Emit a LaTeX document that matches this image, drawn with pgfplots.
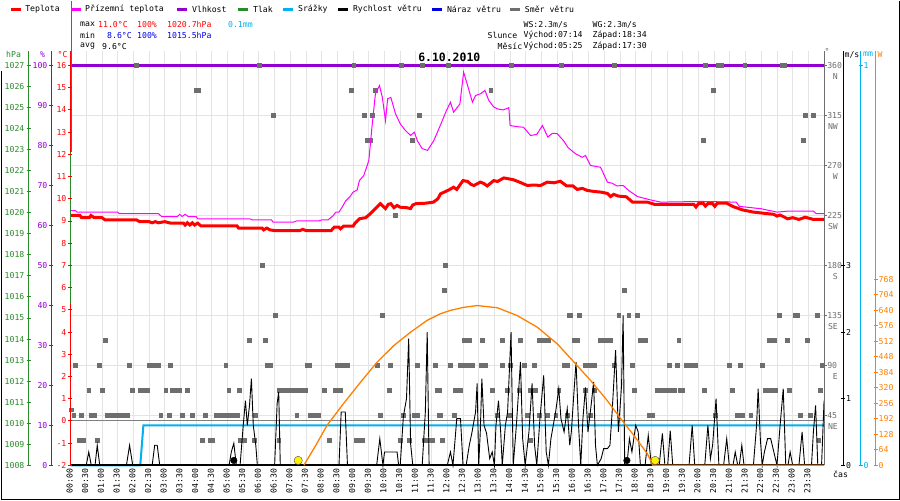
\documentclass[border=0pt]{standalone}
\usepackage{fontspec}
\setmainfont{DejaVu Sans Mono}
\setmonofont{DejaVu Sans Mono}
\usepackage{pgfplots}
\pgfplotsset{compat=1.18}
\definecolor{cT}{RGB}{255,0,0}
\definecolor{cG}{RGB}{255,0,255}
\definecolor{cH}{RGB}{148,0,211}
\definecolor{cP}{RGB}{40,140,40}
\definecolor{cR}{RGB}{0,176,240}
\definecolor{cD}{RGB}{110,110,110}
\definecolor{cS}{RGB}{255,128,0}
\definecolor{cGrid}{RGB}{228,228,228}
\definecolor{cZero}{RGB}{128,128,128}
\definecolor{cBlue}{RGB}{0,0,230}
\newcommand\f{\fontsize{8.2}{9}\selectfont}
\pgfplotsset{ov/.style={at={(70bp,35bp)},anchor=south west,scale only axis,width=754bp,height=400bp,xmin=0,xmax=24,hide axis,clip=false}}
\begin{document}
\begin{tikzpicture}[font=\f]
\begin{scope}[x=1bp,y=1bp,every node/.style={inner sep=0.5pt}]
\useasboundingbox (0,0) rectangle (900,500);
\fill[white] (0,0) rectangle (900,500);
\foreach \i in {0,...,48} \draw[cGrid,line width=0.9bp] ({70+\i*15.708333},35) -- ({70+\i*15.708333},450);
\foreach \k in {1,...,7} \draw[cGrid,line width=0.9bp] (70,{35+\k*50}) -- (824,{35+\k*50});
\draw[cZero,line width=0.9bp] (70,79.5) -- (824,79.5);
\end{scope}
% humidity
\begin{axis}[ov,ymin=0,ymax=100]
\addplot[cH,line width=3bp] coordinates {(0,100) (24,100)};
\end{axis}
% wind direction
\begin{axis}[ov,ymin=0,ymax=360]
\addplot[only marks,mark=square*,mark size=1.9pt,cD] coordinates {
(2.09,360)(6.02,360)(9.02,360)(10.53,360)(11.2,360)(12.03,360)(14.04,360)(15.63,360)(17.32,360)(20.22,360)(20.64,360)(20.72,360)(21.47,360)(22.66,360)(22.73,360)
(4.0,337.5)(4.08,337.5)(8.94,337.5)(9.71,337.5)(13.38,337.5)(20.47,337.5)
(6.45,315)(9.36,315)(9.61,315)(11.1,315)(23.4,315)(23.65,315)
(9.45,292.5)(9.55,292.5)(10.88,292.5)(20.15,292.5)(23.34,292.5)
(10.35,225)(6.1,180)(11.93,180)(11.9,157.5)(17.64,157.5)
(6.53,135)(9.93,135)(15.87,135)(15.93,135)(16.19,135)(17.46,135)(17.78,135)(18.05,135)(22.56,135)(23.09,135)(23.14,135)(23.78,135)
(1.11,112.5)(5.68,112.5)(6.21,112.5)(12.53,112.5)(12.61,112.5)(12.69,112.5)(13.11,112.5)(13.75,112.5)(14.33,112.5)(14.92,112.5)(15.0,112.5)(15.08,112.5)(15.16,112.5)(15.23,112.5)(16.03,112.5)(16.14,112.5)(16.88,112.5)(16.96,112.5)(17.04,112.5)(17.12,112.5)(17.2,112.5)(18.15,112.5)(18.23,112.5)(18.31,112.5)(19.37,112.5)(22.24,112.5)(22.32,112.5)(22.4,112.5)(22.82,112.5)(23.46,112.5)
(0.16,90)(0.9,90)(1.86,90)(2.5,90)(2.6,90)(2.7,90)(2.8,90)(3.18,90)(4.94,90)(6.26,90)(6.37,90)(7.54,90)(7.6,90)(8.49,90)(8.65,90)(8.73,90)(8.8,90)(9.77,90)(10.19,90)(11.04,90)(11.62,90)(12.1,90)(12.42,90)(12.5,90)(12.58,90)(12.66,90)(12.74,90)(12.79,90)(13.06,90)(13.14,90)(13.22,90)(13.75,90)(14.01,90)(14.44,90)(14.76,90)(15.71,90)(15.82,90)(16.4,90)(16.48,90)(16.56,90)(16.67,90)(17.3,90)(17.89,90)(19.06,90)(19.32,90)(19.59,90)(19.67,90)(19.75,90)(19.83,90)(19.9,90)(20.97,90)(21.34,90)(22.03,90)(23.95,90)
(0.58,67.5)(1.0,67.5)(1.96,67.5)(2.23,67.5)(2.33,67.5)(2.44,67.5)(3.03,67.5)(3.24,67.5)(3.34,67.5)(3.45,67.5)(3.72,67.5)(5.04,67.5)(5.36,67.5)(6.63,67.5)(6.71,67.5)(6.8,67.5)(6.89,67.5)(6.97,67.5)(7.06,67.5)(7.14,67.5)(7.22,67.5)(7.38,67.5)(7.48,67.5)(8.07,67.5)(8.44,67.5)(8.6,67.5)(10.14,67.5)(11.73,67.5)(11.68,67.5)(12.26,67.5)(12.34,67.5)(12.42,67.5)(13.43,67.5)(13.91,67.5)(14.28,67.5)(14.65,67.5)(14.73,67.5)(14.81,67.5)(15.55,67.5)(16.4,67.5)(16.67,67.5)(17.96,67.5)(18.68,67.5)(18.76,67.5)(18.84,67.5)(18.92,67.5)(19.0,67.5)(19.08,67.5)(19.16,67.5)(19.24,67.5)(19.4,67.5)(19.48,67.5)(20.17,67.5)(21.07,67.5)(22.13,67.5)(22.21,67.5)(22.29,67.5)(22.37,67.5)(22.45,67.5)(22.88,67.5)(23.88,67.5)
(0.02,50)(0.1,45)(0.34,45)(0.66,45)(0.72,45)(0.76,45)(1.17,45)(1.25,45)(1.33,45)(1.41,45)(1.49,45)(1.57,45)(1.65,45)(1.73,45)(1.8,45)(2.87,45)(3.13,45)(3.56,45)(3.87,45)(4.3,45)(4.62,45)(4.7,45)(4.78,45)(4.86,45)(4.94,45)(4.99,45)(5.15,45)(5.23,45)(5.31,45)(5.89,45)(7.2,45)(7.64,45)(7.72,45)(7.8,45)(7.9,45)(9.87,45)(10.6,45)(10.93,45)(11.04,45)(11.73,45)(11.78,45)(12.21,45)(13.59,45)(13.96,45)(14.54,45)(14.92,45)(15.18,45)(15.45,45)(15.82,45)(16.56,45)(18.42,45)(18.52,45)(20.54,45)(21.23,45)(21.39,45)(21.66,45)(23.25,45)(23.57,45)
(0.27,22.5)(0.42,22.5)(0.85,22.5)(4.19,22.5)(4.46,22.5)(4.51,22.5)(5.41,22.5)(5.52,22.5)(5.84,22.5)(6.63,22.5)(8.23,22.5)(9.08,22.5)(9.16,22.5)(9.22,22.5)(9.29,22.5)(10.5,22.5)(10.78,22.5)(11.25,22.5)(11.36,22.5)(11.52,22.5)(11.84,22.5)(14.65,22.5)(23.83,22.5)
};
\end{axis}
% temperatures
\begin{axis}[ov,ymin=-2,ymax=16]
\addplot[cG,line width=1bp] coordinates {
(0,9.47)(0.15,9.47)(0.2,9.4)(1.5,9.4)(1.55,9.33)(2.8,9.33)(2.9,9.2)(3.4,9.2)(3.48,9.3)(3.55,9.2)(3.65,9.3)(3.75,9.2)(4.0,9.2)(4.05,9.1)(5.7,9.1)(5.8,9.05)(6.4,9.05)(6.45,8.95)(7.1,8.95)(7.2,9.0)(7.9,9.0)(8.0,9.05)(8.2,9.05)(8.35,9.22)(8.45,9.4)(8.55,9.4)(8.65,9.62)(8.76,9.9)(8.9,10.1)(9.0,10.3)(9.13,10.4)(9.2,10.82)(9.34,11.05)(9.5,11.72)(9.6,13.22)(9.71,14.73)(9.84,15.1)(9.93,14.57)(10.03,13.52)(10.1,14.5)(10.2,14.57)(10.35,13.83)(10.5,13.38)(10.65,13.1)(10.83,12.85)(10.95,13.0)(11.05,12.6)(11.2,12.26)(11.37,12.18)(11.57,12.62)(11.8,13.38)(11.95,13.9)(12.1,14.35)(12.2,13.9)(12.4,14.27)(12.52,15.7)(12.63,15.18)(12.8,14.35)(12.9,14.65)(13.06,14.73)(13.2,14.88)(13.32,14.43)(13.48,14.13)(13.6,14.05)(13.77,14.0)(13.96,14.1)(14.0,13.3)(14.2,13.25)(14.43,13.22)(14.65,12.85)(14.85,12.9)(15.03,13.3)(15.2,12.78)(15.35,12.95)(15.5,12.93)(15.7,12.62)(15.85,12.3)(16.08,12.03)(16.3,11.87)(16.4,11.95)(16.56,11.5)(16.88,11.42)(17.1,10.75)(17.25,10.7)(17.4,10.58)(17.6,10.6)(17.8,10.35)(18.06,10.1)(18.47,9.95)(18.8,9.85)(20.1,9.88)(21.2,9.85)(21.3,9.66)(22.0,9.55)(22.5,9.4)(22.9,9.45)(23.66,9.45)(23.75,9.33)(24,9.33)};
\addplot[cT,line width=3bp] coordinates {
(0,9.25)(0.3,9.25)(0.35,9.15)(0.6,9.15)(0.65,9.25)(0.75,9.15)(1.0,9.15)(1.1,9.05)(2.1,9.05)(2.2,8.97)(2.5,8.97)(2.6,8.92)(2.7,8.97)(2.8,8.92)(3.0,8.97)(3.2,8.9)(3.6,8.9)(3.65,8.82)(3.72,8.92)(3.8,8.82)(3.88,8.92)(3.95,8.82)(4.05,8.9)(4.15,8.78)(5.3,8.78)(5.35,8.68)(6.1,8.68)(6.15,8.6)(6.25,8.68)(6.35,8.6)(6.5,8.57)(7.3,8.57)(7.4,8.62)(7.5,8.57)(8.3,8.57)(8.4,8.72)(8.55,8.72)(8.6,8.65)(8.7,8.77)(9.0,8.77)(9.05,8.88)(9.2,9.1)(9.4,9.15)(9.55,9.33)(9.7,9.55)(9.87,9.78)(10.03,9.56)(10.12,9.75)(10.2,9.78)(10.3,9.6)(10.4,9.7)(10.5,9.62)(10.7,9.6)(10.83,9.56)(10.9,9.72)(11.0,9.78)(11.3,9.8)(11.56,9.85)(11.7,10.0)(11.78,10.22)(11.9,10.3)(12.05,10.4)(12.2,10.52)(12.3,10.42)(12.5,10.82)(12.65,10.78)(12.75,10.65)(12.85,10.6)(13.05,10.75)(13.15,10.7)(13.27,10.58)(13.48,10.82)(13.6,10.78)(13.8,10.94)(13.95,10.9)(14.1,10.86)(14.3,10.75)(14.55,10.6)(14.75,10.62)(14.97,10.6)(15.18,10.75)(15.4,10.72)(15.6,10.79)(15.8,10.58)(16.0,10.58)(16.14,10.42)(16.3,10.47)(16.45,10.38)(16.67,10.33)(16.9,10.3)(17.1,10.24)(17.2,10.1)(17.3,10.2)(17.45,10.12)(17.7,10.09)(17.9,9.85)(18.37,9.85)(18.6,9.75)(19.85,9.75)(19.92,9.63)(20.0,9.78)(20.15,9.8)(20.22,9.67)(20.3,9.78)(20.45,9.78)(20.52,9.66)(20.6,9.8)(20.9,9.8)(21.1,9.65)(21.4,9.5)(21.75,9.4)(22.2,9.33)(22.4,9.3)(22.5,9.22)(22.6,9.27)(22.84,9.1)(23.0,9.15)(23.2,9.07)(23.4,9.17)(23.66,9.07)(24,9.07)};
\end{axis}
% precipitation
\begin{axis}[ov,ymin=0,ymax=1]
\addplot[cR,line width=2bp] coordinates {(0,0)(2.22,0)(2.27,0.05)(2.32,0.1)(24,0.1)};
\end{axis}
% wind speed
\begin{axis}[ov,ymin=0,ymax=6]
\addplot[black,line width=0.9bp] coordinates {
(0,0)(0.5,0)(0.58,0.2)(0.66,0)(0.78,0)(0.85,0.3)(0.93,0)(1.78,0)(1.88,0.3)(1.98,0)(2.6,0)(2.68,0.3)(2.76,0.3)(2.84,0)(5.05,0)(5.12,0.2)(5.2,0.33)(5.28,0)(5.4,0)(5.5,0.6)(5.57,0.97)(5.63,0.6)(5.7,0.9)(5.76,1.3)(5.82,0.6)(5.9,0.3)(5.95,0)(6.5,0)(6.58,0.93)(6.63,1.1)(6.68,0)(8.55,0)(8.62,0.8)(8.75,0.8)(8.82,0)(9.75,0)(9.85,0.4)(9.95,0)(10.0,0.2)(10.4,0.2)(10.45,0)(10.5,0)(10.6,0.73)(10.7,1.0)(10.77,1.9)(10.83,0.33)(10.9,0)(11.2,0)(11.3,0.8)(11.36,2.0)(11.42,0)(12.0,0)(12.1,0.2)(12.18,0)(12.25,0.4)(12.3,0.7)(12.42,0.7)(12.5,0)(12.6,0)(12.7,0.3)(12.78,0.48)(12.9,0.8)(12.95,1.23)(13.0,0)(13.05,0.5)(13.1,1.3)(13.17,0.6)(13.25,0.48)(13.35,0.1)(13.43,0.2)(13.5,0)(13.55,0.6)(13.63,0.97)(13.7,0.5)(13.75,0)(13.85,0.6)(13.92,0.8)(14.03,2.0)(14.1,0)(14.2,0.6)(14.33,1.55)(14.4,0.4)(14.48,0)(14.6,0.5)(14.7,1.23)(14.78,0.3)(14.85,0)(14.95,0.7)(15.07,1.35)(15.15,0.2)(15.22,0)(15.3,0.4)(15.45,0.8)(15.55,1.15)(15.62,0.7)(15.72,0.5)(15.82,0.85)(15.9,0.3)(15.95,0.5)(16.02,1.0)(16.1,1.55)(16.18,0.6)(16.25,0)(16.32,0.7)(16.4,1.17)(16.48,0.5)(16.58,0.9)(16.66,1.25)(16.72,0.3)(16.78,0)(16.9,0.1)(16.98,0.25)(17.1,0.25)(17.18,0.3)(17.25,0.8)(17.36,1.73)(17.45,0.5)(17.55,1.2)(17.6,2.25)(17.65,0)(17.72,0)(17.8,0.4)(17.88,0.2)(18.0,0.6)(18.08,0.5)(18.15,0)(18.3,0)(18.4,0.45)(18.5,0)(18.75,0)(18.85,0.48)(18.93,0)(19.02,0)(19.1,0.52)(19.18,0)(19.7,0)(19.8,0.6)(19.88,0)(20.2,0)(20.3,0.6)(20.38,0.1)(20.45,0.3)(20.56,1.0)(20.65,0)(20.8,0)(20.9,0.4)(20.98,0)(21.1,0)(21.17,0.2)(21.25,0)(21.3,0)(21.38,0.3)(21.45,0)(21.75,0)(21.85,0.6)(21.9,1.15)(21.97,0.4)(22.03,0)(22.1,0.2)(22.2,0.4)(22.3,0.4)(22.4,0.2)(22.5,0)(22.6,0.6)(22.7,1.15)(22.78,0)(22.85,0)(22.92,0.2)(23.0,0)(23.2,0)(23.3,0.5)(23.38,0)(23.6,0)(23.66,0.5)(23.73,0.9)(23.8,0)(23.92,0)(24.0,0.97)};
\addplot[black,line width=1.8bp] coordinates {(0,0)(24,0)};
\end{axis}
% solar radiation
\begin{axis}[ov,ymin=0,ymax=1651.6]
\addplot[cS,line width=1.3bp] coordinates {(7.43,0)(7.8,80)(8.17,165)(8.7,256)(9.24,344)(9.77,427)(10.3,495)(10.83,550)(11.36,599)(11.78,626)(12.1,640)(12.5,652)(12.95,660)(13.59,651)(14.22,619)(14.86,571)(15.5,502)(16.03,427)(16.56,351)(17.09,268)(17.52,193)(17.94,124)(18.37,48)(18.55,0)(24,0)};
\addplot[only marks,mark=*,mark size=3.3pt,black] coordinates {(5.2,20)(17.72,20)};
\addplot[only marks,mark=*,mark size=4.2pt,fill=yellow,draw=black!70] coordinates {(7.25,20)(18.62,20)};
\end{axis}
\begin{scope}[x=1bp,y=1bp,every node/.style={inner sep=0.5pt}]
% left axes
\draw[cP,line width=1bp] (28,35) -- (28,450);
\foreach \i in {0,...,19}{\pgfmathtruncatemacro\p{1008+\i}
 \draw[cP,line width=1bp] (26,{35+\i*21.0526}) -- (30,{35+\i*21.0526});
 \node[cP,anchor=east] at (24.5,{35+\i*21.0526}) {\p};}
\draw[cH,line width=1bp] (50.5,35) -- (50.5,450);
\foreach \i in {0,...,10}{\pgfmathtruncatemacro\p{10*\i}
 \draw[cH,line width=1bp] (48.5,{35+\i*40}) -- (52.5,{35+\i*40});
 \node[cH,anchor=east] at (47.5,{35+\i*40}) {\p};}
\draw[cT,line width=1.2bp] (70,35) -- (70,450);
\draw[cP,line width=1.2bp] (70,197) -- (70,348);
\draw[cP,line width=1bp] (71.3,348) -- (71.3,500);
\foreach \i in {0,...,18}{\pgfmathtruncatemacro\p{\i-2}
 \draw[cT,line width=1bp] (67.5,{35+\i*22.2222}) -- (71,{35+\i*22.2222});
 \node[cT,anchor=east] at (66.5,{35+\i*22.2222}) {\p};}
\node[cP] at (13,446) {hPa};
\node[cH] at (42,446) {\%};
\node[cT] at (62,446) {°C};
% right axes
\draw[cD,line width=1bp] (824,35) -- (824,450);
\foreach \k/\v/\d in {1/45/NE,2/90/E,3/135/SE,4/180/S,5/225/SW,6/270/W,7/315/NW,8/360/N}{
 \draw[cD,line width=1bp] (824,{35+\k*50}) -- (827,{35+\k*50});
 \node[cD,anchor=west] at (826.5,{35+\k*50}) {\v};
 \node[cD,anchor=east] at (838.5,{35+\k*50-11}) {\d};}
\draw[black,line width=1bp] (843.3,35) -- (843.3,450);
\foreach \i in {0,...,3}{
 \draw[black,line width=1bp] (841.3,{35+\i*66.6667}) -- (845.3,{35+\i*66.6667});
 \node[anchor=west] at (845.5,{35+\i*66.6667}) {\i};}
\draw[cR,line width=1bp] (860.7,35) -- (860.7,450);
\foreach \i in {0,1}{
 \draw[cR,line width=1bp] (858.7,{35+\i*400}) -- (862.7,{35+\i*400});
 \node[cR,anchor=west] at (863,{35+\i*400}) {\i};}
\draw[cS,line width=1bp] (875.7,35) -- (875.7,450);
\foreach \i in {0,...,12}{\pgfmathtruncatemacro\p{64*\i}
 \draw[cS,line width=1bp] (873.7,{35+\i*15.5}) -- (877.7,{35+\i*15.5});
 \node[cS,anchor=west] at (878,{35+\i*15.5}) {\p};}
\node[cD] at (827,449) {°};
\node at (852,446) {m/s};
\node[cR] at (868,446) {mm};
\node[cS] at (880,446) {W};
% time labels
\foreach \i in {0,...,47}{\pgfmathtruncatemacro\h{floor(\i/2)}\pgfmathtruncatemacro\m{mod(\i,2)}
 \node[rotate=90,anchor=east] at ({69+\i*15.708333},32) {\ifnum\h<10 0\fi\h:\ifnum\m=1 30\else 00\fi};}
\node at (840.5,26) {čas};
\node[font=\bfseries\fontsize{11.5}{12}\selectfont] at (449,443) {6.10.2010};
% legend
\foreach \x/\c/\t in {10/cT/Teplota,70/cG/Přízemní teplota,177/cH/Vlhkost,238/cP/Tlak,283/cR/Srážky,338/black/Rychlost větru,432/cBlue/Náraz větru,510/cD/Směr větru}{
 \draw[\c,line width=2.5bp] (\x,491) -- ({\x+10},491);
 \node[anchor=west] at ({\x+14},491) {\t};}
% stats
\node[anchor=west] at (79,476) {max};
\node[anchor=west,cT] at (97,476) {11.0°C};
\node[anchor=west,cT] at (136,476) {100\%};
\node[anchor=west,cT] at (166,476) {1020.7hPa};
\node[anchor=west,cR] at (227,476) {0.1mm};
\node[anchor=west] at (79,465) {min};
\node[anchor=west,cBlue] at (106,465) {8.6°C};
\node[anchor=west,cBlue] at (136,465) {100\%};
\node[anchor=west,cBlue] at (166,465) {1015.5hPa};
\node[anchor=west] at (79,454) {avg};
\node[anchor=west] at (101,454) {9.6°C};
\node[anchor=west] at (522.7,476) {WS:2.3m/s};
\node[anchor=west] at (591.7,476) {WG:2.3m/s};
\node[anchor=west] at (486.7,465) {Slunce};
\node[anchor=west] at (522.7,465) {Východ:07:14};
\node[anchor=west] at (591.7,465) {Západ:18:34};
\node[anchor=west] at (496.7,454) {Měsíc};
\node[anchor=west] at (522.7,454) {Východ:05:25};
\node[anchor=west] at (591.7,454) {Západ:17:30};
\draw[black,line width=1.2bp] (0.6,0) -- (0.6,430) (0,0.6) -- (899.4,0.6) -- (899.4,500);
\end{scope}
\end{tikzpicture}
\end{document}
